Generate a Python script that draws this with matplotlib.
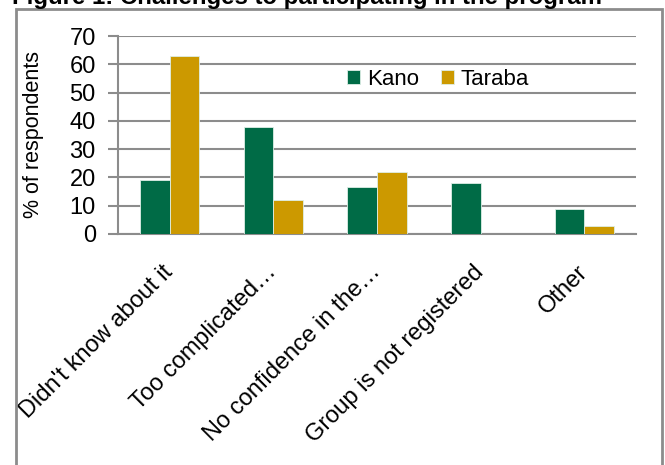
import numpy as np
import matplotlib
matplotlib.use('Agg')
import matplotlib.pyplot as plt
from matplotlib.patches import Rectangle

categories = ["Didn't know about it", "Too complicated…", "No confidence in the…",
              "Group is not registered", "Other"]
kano = [19, 38, 16.5, 18, 9]
taraba = [63, 12, 22, 0, 3]
series_names = ["Kano", "Taraba"]
colors = ["#006B46", "#CC9900"]
yticks = [0, 10, 20, 30, 40, 50, 60, 70]

plt.rcParams['font.family'] = ['Liberation Sans', 'DejaVu Sans']
grid_col = '#8C8C8C'

fig = plt.figure(figsize=(6.65, 4.65), dpi=100)
W, H = 665, 465
ax = fig.add_axes([118 / W, 1 - 234 / H, 518 / W, 198 / H])

x = np.arange(len(categories))
w = 0.285
for vals, name, col, off in zip((kano, taraba), series_names, colors, (-w / 2, w / 2)):
    ax.bar(x + off, vals, w, color=col, label=name, edgecolor='#DDEEE6', linewidth=0.6, zorder=3)

ax.set_xlim(-0.5, len(categories) - 0.5)
ax.set_ylim(0, 70)
ax.set_yticks(yticks)
ax.yaxis.grid(True, color=grid_col, linewidth=1.5, zorder=0)
for s in ('top', 'right'):
    ax.spines[s].set_visible(False)
for s in ('left', 'bottom'):
    ax.spines[s].set_color(grid_col)
    ax.spines[s].set_linewidth(1.5)
ax.tick_params(axis='y', length=7, width=1.5, color=grid_col, labelsize=17, pad=9)
ax.tick_params(axis='x', length=0, labelsize=17, pad=25)
ax.set_xticks(x)
ax.set_xticklabels(categories, rotation=45, ha='right', va='center', rotation_mode='anchor')
ax.set_ylabel('% of respondents', fontsize=15.5, labelpad=18)

ax.legend(loc='center left', bbox_to_anchor=(0.42, 0.78), ncol=2, frameon=False,
          fontsize=16, handlelength=0.6, handleheight=0.6, handletextpad=0.3,
          columnspacing=1.0, borderpad=0)

# outer frame, bottom edge runs off the image
fig.patches.append(Rectangle((16 / W, -0.05), 646 / W, 1.05 - 9 / H,
                             transform=fig.transFigure, fill=False,
                             edgecolor='#8C8C8C', linewidth=2))
fig.text(12 / W, 1 - 4 / H, 'Figure 1: Challenges to participating in the program',
         fontsize=17.3, fontweight='bold', ha='left', va='baseline')

fig.savefig('out.png', dpi=100)
